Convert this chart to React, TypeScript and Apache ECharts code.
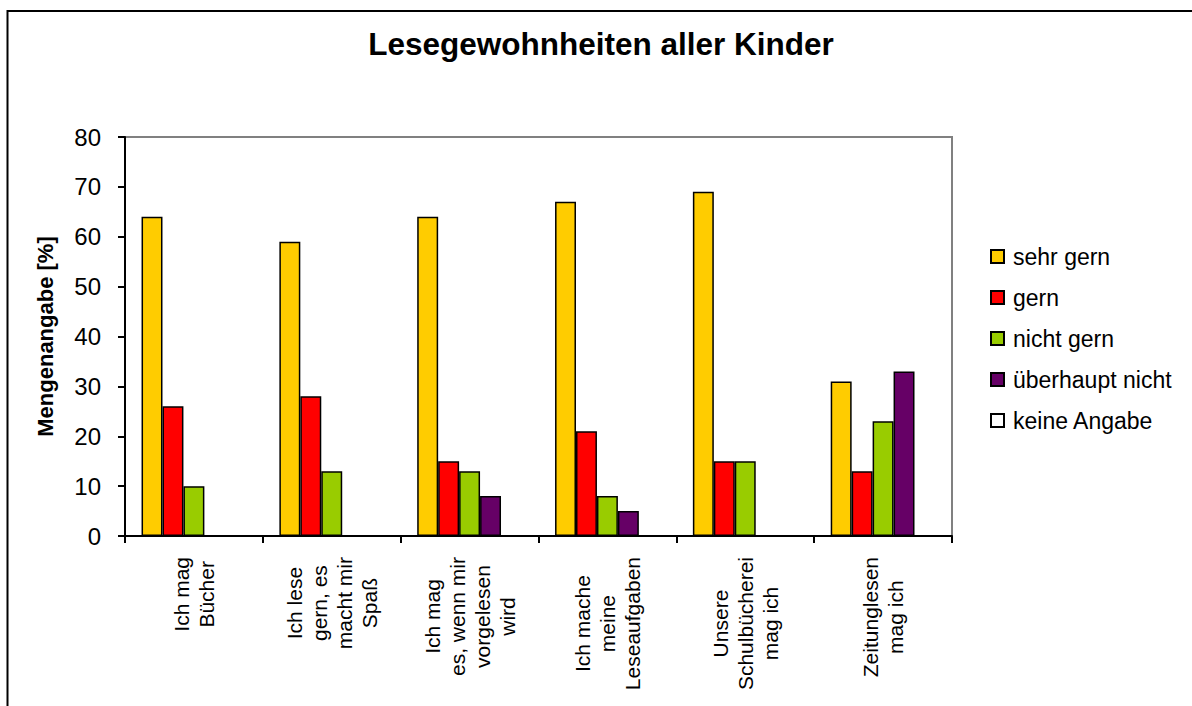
import React, { useEffect, useRef } from "react";
import * as echarts from "echarts";

const categories = [
  "Ich mag\nBücher",
  "Ich lese\ngern, es\nmacht mir\nSpaß",
  "Ich mag\nes, wenn mir\nvorgelesen\nwird",
  "Ich mache\nmeine\nLeseaufgaben",
  "Unsere\nSchulbücherei\nmag ich",
  "Zeitunglesen\nmag ich",
];
const seriesNames = ["sehr gern", "gern", "nicht gern", "überhaupt nicht", "keine Angabe"];
const sehrGern = [64, 59, 64, 67, 69, 31];
const gern = [26, 28, 15, 21, 15, 13];
const nichtGern = [10, 13, 13, 8, 15, 23];
const ueberhauptNicht = [0, 0, 8, 5, 0, 33];
const keineAngabe = [0, 0, 0, 0, 0, 0];
const seriesColors = ["#FFCC00", "#FF0000", "#99CC00", "#660066", "#FFFFFF"];
const yTicks = { min: 0, max: 80, interval: 10 };

const FONT = "'Liberation Sans', Arial, sans-serif";

export default function App() {
  const ref = useRef<HTMLDivElement>(null);
  useEffect(() => {
    if (!ref.current) return;
    const chart = echarts.init(ref.current, null, { renderer: "svg" });
    const values = [sehrGern, gern, nichtGern, ueberhauptNicht, keineAngabe];
    chart.setOption({
      animation: false,
      backgroundColor: "#ffffff",
      textStyle: { fontFamily: FONT },
      title: {
        text: "Lesegewohnheiten aller Kinder",
        left: 596,
        textAlign: "center",
        top: 23,
        textStyle: { fontFamily: FONT, fontWeight: "bold", fontSize: 31.5, color: "#000" },
      },
      graphic: [
        {
          type: "rect",
          shape: { x: 7.5, y: 11, width: 1300, height: 800 },
          style: { fill: "none", stroke: "#000", lineWidth: 2 },
          silent: true,
          z: 100,
        },
      ],
      legend: {
        orient: "vertical",
        left: 985,
        top: 240,
        itemWidth: 13,
        itemHeight: 13,
        itemGap: 18,
        icon: "rect",
        textStyle: { fontFamily: FONT, fontSize: 23, color: "#000", padding: [0, 0, 0, 4] },
        data: seriesNames,
      },
      grid: {
        left: 125,
        right: 240,
        top: 137,
        bottom: 170,
        show: true,
        borderColor: "#808080",
        borderWidth: 2,
        containLabel: false,
      },
      xAxis: {
        type: "category",
        data: categories,
        axisLine: { lineStyle: { color: "#000", width: 2 } },
        axisTick: { show: true, length: 7, lineStyle: { color: "#000", width: 2 } },
        axisLabel: {
          rotate: 90,
          margin: 21,
          interval: 0,
          color: "#000",
          fontFamily: FONT,
          fontSize: 21,
          lineHeight: 25,
          formatter: (v: string) => v.split("\n").map((l) => `{c|${l}}`).join("\n"),
          rich: { c: { align: "center", fontFamily: FONT, fontSize: 21, lineHeight: 25, color: "#000" } },
        },
      },
      yAxis: {
        type: "value",
        min: yTicks.min,
        max: yTicks.max,
        interval: yTicks.interval,
        name: "Mengenangabe [%]",
        nameLocation: "middle",
        nameGap: 69,
        nameTextStyle: { fontFamily: FONT, fontWeight: "bold", fontSize: 22, color: "#000" },
        axisLine: { show: true, lineStyle: { color: "#000", width: 2 } },
        axisTick: { show: true, length: 7, lineStyle: { color: "#000", width: 2 } },
        axisLabel: { margin: 24, color: "#000", fontFamily: FONT, fontSize: 24 },
        splitLine: { show: false },
      },
      series: seriesNames.map((name, i) => ({
        name,
        type: "bar",
        data: values[i],
        barGap: "0%",
        barCategoryGap: "24%",
        itemStyle: { color: seriesColors[i], borderColor: "#000", borderWidth: 1.5 },
      })),
    });
    return () => chart.dispose();
  }, []);
  return (
    <div
      ref={ref}
      style={{ position: "absolute", left: 0, top: 0, width: 1192, height: 706 }}
    />
  );
}
